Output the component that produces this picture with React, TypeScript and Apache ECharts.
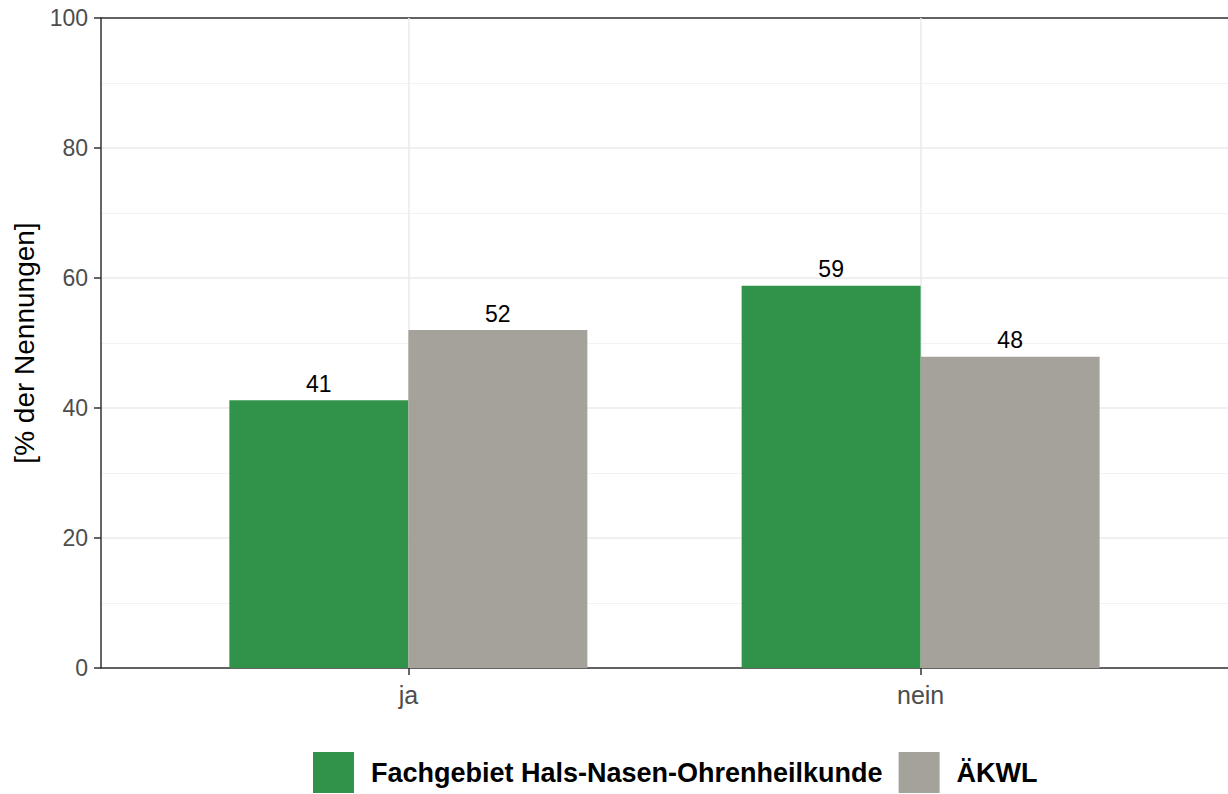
import React, { useEffect, useRef } from "react";
import * as echarts from "echarts";

const categories = ["ja", "nein"];
const categoryPositions = [1, 2];
const seriesNames = ["Fachgebiet Hals-Nasen-Ohrenheilkunde", "ÄKWL"];
const hnoValues = [41.2, 58.8];
const aekwlValues = [52.0, 47.9];
const yTicks = [0, 20, 40, 60, 80, 100];

const FONT = "Liberation Sans, Arial, sans-serif";

export default function App() {
  const ref = useRef<HTMLDivElement>(null);
  useEffect(() => {
    document.body.style.margin = "0";
    const chart = echarts.init(ref.current!, null, { renderer: "svg" });
    const toPairs = (vals: number[]) => vals.map((v, i) => [categoryPositions[i], v]);
    const labelCfg = {
      show: true,
      position: "top" as const,
      distance: 5,
      fontSize: 23,
      color: "#000",
      fontFamily: FONT,
      formatter: (p: any) => String(Math.round(p.value[1])),
    };
    chart.setOption({
      animation: false,
      textStyle: { fontFamily: FONT },
      grid: { left: 101, right: 0, top: 18, bottom: 126, containLabel: false, outerBoundsMode: "none" },
      xAxis: [
        {
          type: "value",
          min: 0.4,
          max: 2.6,
          axisLine: { show: true, onZero: false, lineStyle: { color: "#333", width: 1.5 } },
          axisTick: { show: true, customValues: categoryPositions, length: 7, lineStyle: { color: "#333", width: 1.5 } },
          axisLabel: {
            show: true,
            customValues: categoryPositions,
            formatter: (v: number) => categories[Math.round(v) - 1] ?? "",
            fontSize: 25,
            color: "#4d4d4d",
            margin: 14,
            fontFamily: FONT,
          },
          splitLine: { show: false },
        },
        {
          type: "value",
          position: "top",
          min: 0.4,
          max: 2.6,
          axisLine: { show: true, onZero: false, lineStyle: { color: "#333", width: 1.5 } },
          axisTick: { show: false },
          axisLabel: { show: false },
          splitLine: { show: false },
        },
      ],
      yAxis: {
        type: "value",
        min: yTicks[0],
        max: yTicks[yTicks.length - 1],
        interval: 20,
        name: "[% der Nennungen]",
        nameLocation: "middle",
        nameRotate: 90,
        nameGap: 60,
        nameTextStyle: { fontSize: 28, color: "#000", fontFamily: FONT },
        axisLine: { show: true, lineStyle: { color: "#333", width: 1.5 } },
        axisTick: { show: true, length: 7, lineStyle: { color: "#333", width: 1.5 } },
        axisLabel: { fontSize: 23, color: "#4d4d4d", margin: 13, fontFamily: FONT },
        splitLine: { show: true, lineStyle: { color: "#ebebeb", width: 1.6 } },
        minorTick: { show: false, splitNumber: 2 },
        minorSplitLine: { show: true, lineStyle: { color: "#f2f2f2", width: 1 } },
      },
      legend: {
        left: 313,
        top: 752,
        padding: 0,
        itemWidth: 41,
        itemHeight: 41,
        itemGap: 16,
        icon: "rect",
        selectedMode: false,
        textStyle: { fontSize: 27, fontWeight: "bold", color: "#000", fontFamily: FONT, padding: [0, 0, 0, 12] },
        data: seriesNames,
      },
      series: [
        {
          type: "line",
          name: "grid",
          data: [],
          z: 1,
          silent: true,
          markLine: {
            z: 1,
            silent: true,
            symbol: "none",
            label: { show: false },
            lineStyle: { color: "#ebebeb", width: 1.6, type: "solid" },
            data: categoryPositions.map((x) => ({ xAxis: x })),
          },
        },
        {
          type: "bar",
          name: seriesNames[0],
          data: toPairs(hnoValues),
          barWidth: 179,
          barGap: "0%",
          itemStyle: { color: "#31934a" },
          label: labelCfg,
          z: 6,
        },
        {
          type: "bar",
          name: seriesNames[1],
          data: toPairs(aekwlValues),
          barWidth: 179,
          barGap: "0%",
          itemStyle: { color: "#a5a29b" },
          label: labelCfg,
          z: 6,
        },
      ],
    });
    return () => chart.dispose();
  }, []);
  return <div ref={ref} style={{ width: 1228, height: 794 }} />;
}
